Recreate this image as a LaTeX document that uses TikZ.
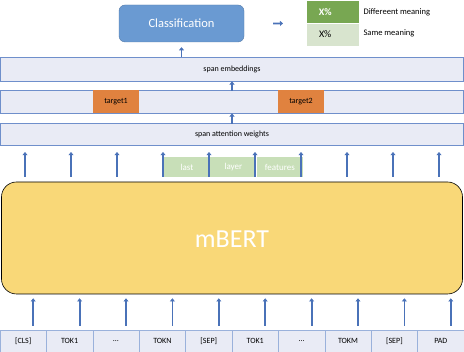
\documentclass[tikz,border=0pt]{standalone}
\usepackage{fontspec}
\setmainfont{Carlito}
\usepackage{tikz}
\usetikzlibrary{arrows.meta,positioning,calc}

\definecolor{lav}{HTML}{E9EBF5}
\definecolor{lavline}{HTML}{6F8FCB}
\definecolor{arr}{HTML}{4A72B8}
\definecolor{orng}{HTML}{E0823F}
\definecolor{lgreen}{HTML}{C8DFB8}
\definecolor{dgreen}{HTML}{78A752}
\definecolor{pgreen}{HTML}{D8E4CE}
\definecolor{gold}{HTML}{F9D878}
\definecolor{clsblue}{HTML}{6A9AD2}

\begin{document}
\begin{tikzpicture}[x=1pt, y=-1pt,
    band/.style={draw=lavline, fill=lav, line width=0.8pt, minimum width=463pt, inner sep=0pt},
    tokcell/.style={draw=lavline!70, fill=lav, line width=0.6pt, minimum width=46.4pt, minimum height=22pt, inner sep=0pt},
    feat/.style={fill=lgreen, minimum width=46pt, minimum height=20pt, inner sep=0pt, text=white, font=\fontsize{9}{10}\selectfont},
    up/.style={draw=arr, line width=1.8pt, -{Triangle[length=3.2pt, width=5pt]}},
    every node/.style={font=\fontsize{8}{9}\selectfont}]
  \useasboundingbox (0,0) rectangle (464,352);
  % input tokens
  \foreach \t [count=\i from 0] in {[CLS],TOK1,\dots,TOKN,[SEP],TOK1,\dots,TOKM,[SEP],PAD}
    \node[tokcell] (tok\i) at ({23.2+46.4*\i},341) {\t};
  % encoder
  \node[draw=black, fill=gold, line width=0.6pt, rounded corners=15pt, minimum width=461pt,
        minimum height=112pt, inner sep=0pt] (mbert) at (232,238) {};
  \node[text=white, font=\fontsize{26}{28}\selectfont] (mlabel) at (232,239) {mBERT};
  \foreach \i in {0,...,9}
    \draw[up] ([xshift=10pt, yshift=4pt]tok\i.north) -- ([xshift=10pt, yshift=-4pt]tok\i.north |- mbert.south);
  % last layer features
  \node[feat] (last) at (187,167) {last};
  \node[feat, right=0pt of last] (layer) {layer};
  \node[feat, right=0pt of layer] (feats) {features};
  % span layers
  \node[band, minimum height=22pt] (att) at (232,134) {span attention weights};
  \foreach \i in {0,...,9}
    \draw[up] ({25+46*\i},177) -- ({25+46*\i},152);
  \node[band, minimum height=23pt] (mid) at (232,101.5) {};
  \node[fill=orng, minimum width=46pt, minimum height=23pt, inner sep=0pt, anchor=north] (tgt1) at (116,90) {target1};
  \node[fill=orng, minimum width=46pt, minimum height=23pt, inner sep=0pt, anchor=north] (tgt2) at (301,90) {target2};
  \draw[up] ([yshift=-1pt]att.north) -- (mid.south);
  \node[band, minimum height=24pt] (emb) at (232,69) {span embeddings};
  \draw[up] ([yshift=-1pt]mid.north) -- (emb.south);
  % classifier
  \node[draw=clsblue!80!black, fill=clsblue, rounded corners=6pt, minimum width=125pt,
        minimum height=37pt, text=white, font=\fontsize{12.5}{14}\selectfont] (cls) at (181.5,23.5) {Classification};
  \coordinate (clsin) at (cls.south |- emb.north);
  \draw[up] (clsin) -- ([yshift=-5pt]cls.south);
  % legend
  \node[fill=dgreen, minimum width=52pt, minimum height=22pt, inner sep=0pt, text=white,
        font=\fontsize{10}{11}\bfseries, anchor=north west] (diff) at (307,1) {\hspace*{-16pt}X\%};
  \node[fill=pgreen, minimum width=52pt, minimum height=22pt, inner sep=0pt,
        font=\fontsize{10}{11}\selectfont, below=0pt of diff] (same) {\hspace*{-16pt}X\%};
  \node[anchor=west, font=\fontsize{8.5}{10}\selectfont] (difflbl) at (360,12) {Differeent meaning};
  \node[anchor=west, font=\fontsize{8.5}{10}\selectfont] (samelbl) at (360,33) {Same meaning};
  \draw[draw=arr, line width=1.8pt, -{Triangle[length=3pt, width=5pt]}] ([xshift=29pt]cls.east) -- ([xshift=-24pt]diff.south west);
\end{tikzpicture}
\end{document}
